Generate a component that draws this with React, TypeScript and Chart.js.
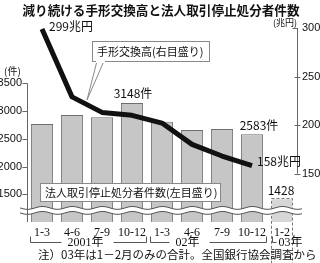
import React, { useEffect, useRef } from "react";
import { Chart, registerables } from "chart.js";

Chart.register(...registerables);

const categories = ["1-3", "4-6", "7-9", "10-12", "1-3", "4-6", "7-9", "10-12", "1-2"];
const caseCounts = [2770, 2930, 2890, 3148, 2810, 2660, 2680, 2583, 1428];
const clearingAmounts: (number | null)[] = [299, 229, 213, 210, 202, 180, 168, 158, null];
const leftTicks = [1500, 2000, 2500, 3000, 3500];
const rightTicks = [150, 200, 250, 300];
const yearLabels = ["2001年", "02年", "03年"];

const TITLE = "減り続ける手形交換高と法人取引停止処分者件数";
const NOTE = "注）03年は1－2月のみの合計。全国銀行協会調査から";
const JP = '"Noto Sans CJK JP", "Noto Sans", sans-serif';
const SERIF = '"Liberation Serif", "DejaVu Serif", "Noto Sans CJK JP", serif';

const overlay = {
  id: "overlay",
  afterDatasetsDraw(chart: any) {
    const ctx = chart.ctx as CanvasRenderingContext2D;
    const xs = chart.scales.x;
    const yl = chart.scales.y;
    const yr = chart.scales.y1;
    const area = chart.chartArea;
    ctx.save();

    // dashed outline for the last (partial) bar
    const barMeta = chart.getDatasetMeta(0);
    const last = barMeta.data[barMeta.data.length - 1] as any;
    if (last) {
      const w = last.width;
      ctx.setLineDash([3, 2]);
      ctx.strokeStyle = "#777";
      ctx.lineWidth = 1;
      ctx.strokeRect(Math.round(last.x - w / 2) + 0.5, Math.round(last.y) + 0.5, Math.round(w) - 1, last.base - last.y);
      ctx.setLineDash([]);
    }

    // wave break band
    const wy = yl.getPixelForValue(1200);
    const wave = (x: number) => 1.4 * Math.sin(((x - 20) / 30) * Math.PI * 2);
    const x0 = area.left - 7, x1 = area.right + 5;
    ctx.beginPath();
    for (let x = x0; x <= x1; x++) {
      const y = wy - 3 + wave(x);
      if (x === x0) ctx.moveTo(x, y); else ctx.lineTo(x, y);
    }
    for (let x = x1; x >= x0; x--) ctx.lineTo(x, wy + 2 + wave(x));
    ctx.closePath();
    ctx.fillStyle = "#fff";
    ctx.fill();
    ctx.strokeStyle = "#555";
    ctx.lineWidth = 1;
    for (const off of [-3, 2]) {
      ctx.beginPath();
      for (let x = x0; x <= x1; x++) {
        const y = wy + off + wave(x);
        if (x === x0) ctx.moveTo(x, y); else ctx.lineTo(x, y);
      }
      ctx.stroke();
    }

    // axes lines and tick marks
    ctx.strokeStyle = "#666";
    ctx.lineWidth = 1;
    const lx = area.left + 0.5;
    ctx.beginPath();
    ctx.moveTo(lx, yl.getPixelForValue(leftTicks[leftTicks.length - 1]));
    ctx.lineTo(lx, area.bottom);
    for (const t of leftTicks) {
      const y = Math.round(yl.getPixelForValue(t)) + 0.5;
      ctx.moveTo(lx - 5, y);
      ctx.lineTo(lx, y);
    }
    ctx.stroke();
    const rx = area.right + 0.5;
    ctx.beginPath();
    ctx.moveTo(rx, yr.getPixelForValue(rightTicks[rightTicks.length - 1]));
    ctx.lineTo(rx, yr.getPixelForValue(rightTicks[0]));
    for (const t of rightTicks) {
      const y = Math.round(yr.getPixelForValue(t)) + 0.5;
      if (t === rightTicks[rightTicks.length - 1]) {
        ctx.moveTo(rx - 5, y);
        ctx.lineTo(rx, y);
      } else {
        ctx.moveTo(rx - 3, y);
        ctx.lineTo(rx + 3, y);
      }
    }
    ctx.stroke();

    // title
    ctx.fillStyle = "#111";
    ctx.textBaseline = "middle";
    ctx.textAlign = "center";
    ctx.font = `bold 12.6px ${JP}`;
    ctx.fillText(TITLE, 161, 10);

    // unit labels
    ctx.font = `9px ${JP}`;
    ctx.textAlign = "right";
    ctx.fillText("(兆円)", area.right, 23);
    ctx.font = `10px ${JP}`;
    ctx.textAlign = "left";
    ctx.fillText("(件)", 4, 71);

    // value annotations
    const lineMeta = chart.getDatasetMeta(1);
    const p0 = lineMeta.data[0] as any;
    const p7 = lineMeta.data[7] as any;
    ctx.font = `12px ${JP}`;
    ctx.textAlign = "left";
    ctx.fillText(clearingAmounts[0] + "兆円", p0.x + 7, p0.y - 3);
    ctx.fillText(clearingAmounts[7] + "兆円", p7.x + 5, p7.y - 4);
    ctx.textAlign = "center";
    const b3 = barMeta.data[3] as any;
    ctx.fillText(caseCounts[3] + "件", b3.x + 1, b3.y - 10);
    const b7 = barMeta.data[7] as any;
    ctx.fillText(caseCounts[7] + "件", b7.x + 7, b7.y - 9);
    ctx.fillText(String(caseCounts[8]), last.x - 1, last.y - 8);

    // callout box for line
    ctx.lineWidth = 1;
    ctx.strokeStyle = "#888";
    ctx.fillStyle = "#fff";
    ctx.beginPath();
    ctx.moveTo(97, 61);
    ctx.lineTo(87, 100);
    ctx.lineTo(104, 61);
    ctx.closePath();
    ctx.fill();
    ctx.stroke();
    ctx.fillRect(92.5, 41.5, 117, 20);
    ctx.strokeRect(92.5, 41.5, 117, 20);
    ctx.fillRect(96, 60, 9, 3);
    ctx.fillStyle = "#111";
    ctx.font = `11px ${JP}`;
    ctx.textAlign = "left";
    ctx.fillText("手形交換高(右目盛り)", 97, 51.5);

    // box for bars
    ctx.fillStyle = "#fff";
    ctx.strokeStyle = "#888";
    ctx.fillRect(40.5, 183.5, 180, 18);
    ctx.strokeRect(40.5, 183.5, 180, 18);
    ctx.fillStyle = "#111";
    ctx.fillText("法人取引停止処分者件数(左目盛り)", 45, 192.5);

    // year brackets
    const half = (xs.getPixelForValue(1) - xs.getPixelForValue(0)) / 2;
    const groups = [
      { from: 0, to: 3, text: yearLabels[0], at: 1.45 },
      { from: 4, to: 7, text: yearLabels[1], at: 4.85 },
    ];
    ctx.font = `12px ${SERIF}`;
    ctx.strokeStyle = "#555";
    const by = 242.5;
    for (const g of groups) {
      const l = Math.round(xs.getPixelForValue(g.from) - half + 3) + 0.5;
      const r = Math.round(xs.getPixelForValue(g.to) + half - 1) + 0.5;
      const cx = xs.getPixelForValue(g.at);
      const tw = ctx.measureText(g.text).width;
      ctx.beginPath();
      ctx.moveTo(l, by - 6);
      ctx.lineTo(l, by);
      ctx.lineTo(cx - tw / 2 - 6, by);
      ctx.moveTo(cx + tw / 2 + 10, by);
      ctx.lineTo(r, by);
      ctx.lineTo(r, by - 6);
      ctx.stroke();
      ctx.fillStyle = "#111";
      ctx.textAlign = "center";
      ctx.fillText(g.text, cx, by);
    }
    const l3 = Math.round(xs.getPixelForValue(8) - half + 5) + 0.5;
    ctx.beginPath();
    ctx.moveTo(l3, by - 6);
    ctx.lineTo(l3, by);
    ctx.lineTo(l3 + 4, by);
    ctx.stroke();
    ctx.textAlign = "left";
    ctx.fillText(yearLabels[2], l3 + 6, by);

    // footnote
    ctx.font = `11.5px ${JP}`;
    ctx.textAlign = "left";
    ctx.fillText(NOTE, 38, 255);

    ctx.restore();
  },
};

const plainTick = (v: any) => String(v);

export default function App() {
  const ref = useRef<HTMLCanvasElement>(null);
  useEffect(() => {
    document.body.style.margin = "0";
    const chart = new Chart(ref.current!, {
      type: "bar",
      data: {
        labels: categories,
        datasets: [
          {
            type: "bar",
            data: caseCounts,
            yAxisID: "y",
            backgroundColor: caseCounts.map((_, i) => (i === caseCounts.length - 1 ? "#d6d6d6" : "#c6c6c6")),
            borderColor: caseCounts.map((_, i) => (i === caseCounts.length - 1 ? "rgba(0,0,0,0)" : "#6f6f6f")),
            borderWidth: 1,
            barPercentage: 0.74,
            categoryPercentage: 1,
            order: 1,
          },
          {
            type: "line",
            data: clearingAmounts,
            yAxisID: "y1",
            borderColor: "#111",
            borderWidth: 5,
            pointRadius: 0,
            tension: 0,
            borderJoinStyle: "round",
            spanGaps: false,
            order: 0,
          },
        ],
      } as any,
      options: {
        responsive: false,
        animation: false,
        layout: { padding: { top: 28, left: 0, right: 0, bottom: 0 } },
        plugins: { legend: { display: false }, tooltip: { enabled: false }, title: { display: false } },
        scales: {
          x: {
            grid: { display: false, drawTicks: false },
            border: { display: false },
            ticks: { color: "#111", font: { family: SERIF, size: 12 }, padding: 4, maxRotation: 0, autoSkip: false },
            afterFit: (s: any) => { s.height = 41; },
          },
          y: {
            position: "left",
            min: 1000,
            max: 4500,
            grid: { display: false, drawTicks: false },
            border: { display: false },
            ticks: { color: "#111", font: { family: '"Liberation Sans", Arial, sans-serif', size: 11 }, padding: 5, callback: plainTick },
            afterBuildTicks: (s: any) => { s.ticks = leftTicks.map((v) => ({ value: v })); },
            afterFit: (s: any) => { s.width = 27; },
          },
          y1: {
            position: "right",
            min: 100,
            max: 300,
            grid: { display: false, drawTicks: false },
            border: { display: false },
            ticks: { color: "#111", font: { family: '"Liberation Sans", Arial, sans-serif', size: 11 }, padding: 5, callback: plainTick },
            afterBuildTicks: (s: any) => { s.ticks = rightTicks.map((v) => ({ value: v })); },
            afterFit: (s: any) => { s.width = 23; },
          },
        },
      } as any,
      plugins: [overlay],
    });
    return () => chart.destroy();
  }, []);
  return <canvas ref={ref} width={320} height={263} style={{ display: "block", width: 320, height: 263 }} />;
}
